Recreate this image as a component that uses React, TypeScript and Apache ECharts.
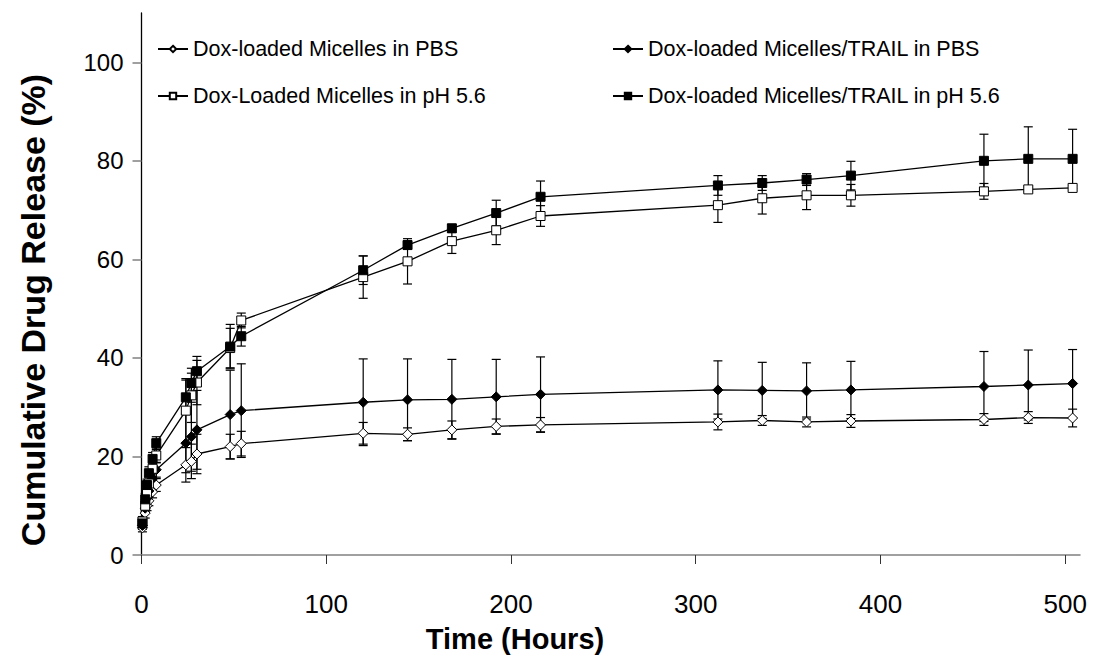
import React, { useEffect, useRef } from "react";
import * as echarts from "echarts";

const times = [0.5, 2, 3, 4, 6, 8, 24, 27, 30, 48, 54, 120, 144, 168, 192, 216, 312, 336, 360, 384, 456, 480, 504];

const seriesNames = [
  "Dox-loaded Micelles in PBS",
  "Dox-loaded Micelles/TRAIL in PBS",
  "Dox-Loaded Micelles in pH 5.6",
  "Dox-loaded Micelles/TRAIL in pH 5.6",
];

const pbs = [5.5, 8.5, 10, 11, 12.8, 14.2, 18.3, 19.0, 20.5, 22.0, 22.6, 24.7, 24.5, 25.4, 26.1, 26.4, 27.0, 27.3, 27.0, 27.2, 27.5, 27.9, 27.8];
const pbsErr = [0.8, 1, 1, 1, 1.2, 1.3, 3.5, 3.5, 4, 2.5, 2.5, 2.2, 1.3, 1.8, 1.5, 1.5, 1.6, 1.0, 1.0, 1.3, 1.2, 1.2, 1.8];

const trailPbs = [6, 9.5, 11.5, 13, 15.5, 17.3, 22.7, 24.0, 25.4, 28.5, 29.3, 31.0, 31.5, 31.6, 32.1, 32.6, 33.5, 33.4, 33.3, 33.5, 34.2, 34.5, 34.8];
const trailPbsErr = [0.8, 1, 1.2, 1.2, 1.5, 1.5, 6, 7, 8, 9, 9.5, 8.8, 8.3, 8.1, 7.6, 7.6, 5.9, 5.7, 5.7, 5.8, 7.1, 7.1, 6.9];

const ph56 = [6.8, 10, 12.5, 14.5, 17.5, 20.2, 29.3, 32.4, 35.0, 42.0, 47.6, 56.4, 59.6, 63.7, 65.9, 68.8, 71.0, 72.4, 73.0, 73.0, 73.8, 74.2, 74.5];
const ph56Err = [1, 1.2, 1.5, 1.5, 1.5, 1.5, 6.5, 5.5, 4.5, 4, 1.5, 4.3, 4.6, 2.5, 2.9, 2.1, 3.5, 3.2, 2.9, 2.2, 1.6, 0.5, 0.5];

const trailPh56 = [6.4, 11.3, 14.2, 16.6, 19.5, 22.7, 32.0, 34.9, 37.3, 42.3, 44.4, 57.8, 62.9, 66.3, 69.4, 72.7, 75.0, 75.5, 76.2, 77.0, 80.0, 80.4, 80.4];
const trailPh56Err = [1, 1.2, 1.2, 1.3, 1.3, 1.3, 3.5, 2, 3, 4.5, 2, 2.9, 0.8, 0.8, 2.6, 3.2, 2, 1.5, 1.2, 2.9, 5.4, 6.5, 6];

const xTicks = [0, 100, 200, 300, 400, 500];
const yTicks = [0, 20, 40, 60, 80, 100];

const xTitle = "Time (Hours)";
const yTitle = "Cumulative Drug Release (%)";

const FONT = "'Liberation Sans', Arial, sans-serif";

export default function App() {
  const ref = useRef<HTMLDivElement>(null);

  useEffect(() => {
    if (!ref.current) return;
    const chart = echarts.init(ref.current, null, { renderer: "svg" });

    const values = [pbs, trailPbs, ph56, trailPh56];
    const errs = [pbsErr, trailPbsErr, ph56Err, trailPh56Err];
    const symbols = ["diamond", "diamond", "rect", "rect"];
    const fills = ["#ffffff", "#000000", "#ffffff", "#000000"];
    const sizes = [10, 10, 9, 9];

    const lineSeries = values.map((vals, i) => ({
      name: seriesNames[i],
      type: "line",
      data: times.map((t, j) => [t, vals[j]]),
      symbol: symbols[i],
      symbolSize: sizes[i],
      showAllSymbol: true,
      lineStyle: { color: "#000", width: 1.3 },
      itemStyle: { color: fills[i], borderColor: "#000", borderWidth: 1 },
      z: 3,
    }));

    const errSeries = values.map((vals, i) => ({
      name: "err" + i,
      type: "custom",
      data: times.map((t, j) => [t, vals[j] - errs[i][j], vals[j] + errs[i][j]]),
      encode: { x: 0, y: [1, 2] },
      z: 2,
      renderItem: (params: any, api: any) => {
        const x = api.value(0);
        const lo = api.coord([x, api.value(1)]);
        const hi = api.coord([x, api.value(2)]);
        const w = 4.5;
        const st = { stroke: "#000", lineWidth: 1.2 };
        return {
          type: "group",
          children: [
            { type: "line", shape: { x1: lo[0], y1: lo[1], x2: hi[0], y2: hi[1] }, style: st },
            { type: "line", shape: { x1: lo[0] - w, y1: lo[1], x2: lo[0] + w, y2: lo[1] }, style: st },
            { type: "line", shape: { x1: hi[0] - w, y1: hi[1], x2: hi[0] + w, y2: hi[1] }, style: st },
          ],
        };
      },
    }));

    const legendCommon = {
      orient: "vertical",
      top: 33,
      itemGap: 25,
      itemWidth: 30,
      itemHeight: 8,
      textStyle: { fontSize: 21.5, fontFamily: FONT, color: "#000" },
    };

    chart.setOption({
      animation: false,
      backgroundColor: "#fff",
      grid: { left: 141.5, right: 13, top: 13, bottom: 105, containLabel: false },
      legend: [
        { ...legendCommon, left: 152, data: [seriesNames[0], seriesNames[2]] },
        { ...legendCommon, left: 607, data: [seriesNames[1], seriesNames[3]] },
      ],
      graphic: [
        {
          type: "text",
          x: 515,
          y: 639,
          style: { text: xTitle, font: `bold 29px ${FONT}`, fill: "#000", align: "center", verticalAlign: "middle" },
        },
        {
          type: "text",
          x: 33,
          y: 310,
          rotation: Math.PI / 2,
          style: { text: yTitle, font: `bold 34px ${FONT}`, fill: "#000", align: "center", verticalAlign: "middle" },
        },
      ],
      xAxis: {
        type: "value",
        min: 0,
        max: 508,
        axisLine: { lineStyle: { color: "#808080", width: 1.5 } },
        axisTick: { show: true, customValues: xTicks, length: 9, lineStyle: { color: "#333", width: 1 } },
        axisLabel: { customValues: xTicks, fontSize: 26, fontFamily: FONT, color: "#000", margin: 36 },
        splitLine: { show: false },
      },
      yAxis: {
        type: "value",
        min: 0,
        max: 110,
        axisLine: { lineStyle: { color: "#000", width: 1.3 } },
        axisTick: { show: true, customValues: yTicks, length: 9, lineStyle: { color: "#808080", width: 1.5 } },
        axisLabel: { customValues: yTicks, fontSize: 24, fontFamily: FONT, color: "#000", margin: 18 },
        splitLine: { show: false },
      },
      series: [...errSeries, ...lineSeries],
    });

    return () => chart.dispose();
  }, []);

  return <div ref={ref} style={{ position: "absolute", left: 0, top: 0, width: 1093, height: 660 }} />;
}
